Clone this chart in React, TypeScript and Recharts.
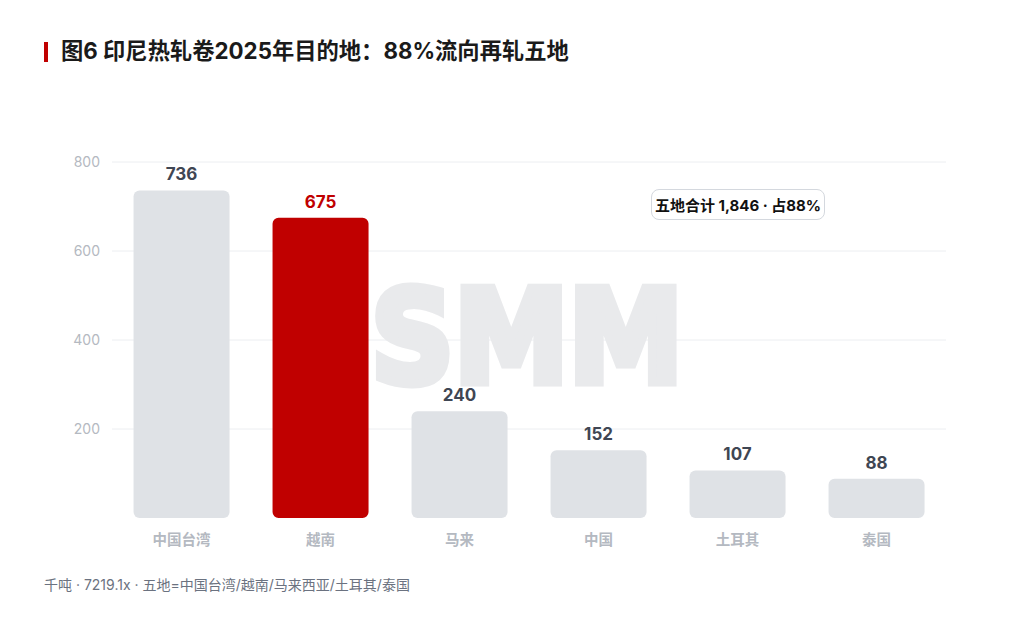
import { BarChart, Bar, XAxis, YAxis, CartesianGrid, Cell, LabelList } from "recharts";

const categories = ["中国台湾", "越南", "马来", "中国", "土耳其", "泰国"];
const volumes = [736, 675, 240, 152, 107, 88];
const highlight = ["", "越南", "", "", "", ""];
const yTicks = [200, 400, 600, 800];

const FONT = "Inter, 'Noto Sans CJK SC', 'Noto Sans', sans-serif";
const RED = "#c00000";
const GREY = "#dfe2e6";

const data = categories.map((name, i) => ({ name, value: volumes[i], hot: highlight[i] === name }));

const ValueLabel = (props: any) => {
  const { x, y, width, value, index } = props;
  const hot = data[index]?.hot;
  return (
    <text
      x={x + width / 2}
      y={y - 10}
      textAnchor="middle"
      fontFamily={FONT}
      fontSize={17}
      fontWeight={700}
      fill={hot ? RED : "#3f4653"}
    >
      {value}
    </text>
  );
};

export default function App() {
  return (
    <div style={{ position: "absolute", left: 0, top: 0, width: 1024, height: 624, background: "#fff", fontFamily: FONT }}>
      <div style={{ position: "absolute", left: 44, top: 42, width: 4, height: 20, background: RED }} />
      <div style={{ position: "absolute", left: 61, top: 35, fontSize: 22.3, fontWeight: 700, color: "#1a1a1a", lineHeight: "32px", whiteSpace: "nowrap" }}>
        图6 印尼热轧卷2025年目的地：88%流向再轧五地
      </div>

      <BarChart
        width={1024}
        height={624}
        data={data}
        margin={{ top: 162, right: 78, bottom: 76, left: 52 }}
        barCategoryGap="15.5%"
        style={{ position: "absolute", left: 0, top: 0 }}
      >
        <CartesianGrid vertical={false} stroke="#eceef1" horizontalValues={yTicks} />
        {/* SMM watermark */}
        <text
          x={527}
          y={382}
          textAnchor="middle"
          fontFamily="'DejaVu Sans', sans-serif"
          fontWeight={900}
          fontSize={128}
          textLength={312}
          lengthAdjust="spacingAndGlyphs"
          fill="#e9eaec"
          stroke="#e9eaec"
          strokeWidth={9}
          strokeLinejoin="miter"
        >
          SMM
        </text>
        <XAxis
          dataKey="name"
          axisLine={false}
          tickLine={false}
          tickSize={0}
          tickMargin={17}
          height={30}
          tick={{ fontSize: 14.5, fontWeight: 700, fill: "#b4b9c1", fontFamily: FONT }}
        />
        <YAxis
          domain={[0, 800]}
          ticks={yTicks}
          axisLine={false}
          tickLine={false}
          tickSize={0}
          tickMargin={12}
          width={60}
          tick={{ fontSize: 14, fill: "#b4b9c1", fontFamily: FONT }}
        />
        <Bar dataKey="value" radius={6} isAnimationActive={false}>
          {data.map((d) => (
            <Cell key={d.name} fill={d.hot ? RED : GREY} />
          ))}
          <LabelList dataKey="value" content={<ValueLabel />} />
        </Bar>
      </BarChart>

      <div
        style={{
          position: "absolute",
          left: 651,
          top: 189,
          width: 174,
          height: 31,
          boxSizing: "border-box",
          border: "1px solid #d4d8de",
          borderRadius: 8,
          background: "#fff",
          fontSize: 15,
          fontWeight: 700,
          color: "#111",
          display: "flex",
          alignItems: "center",
          justifyContent: "center",
          whiteSpace: "nowrap",
        }}
      >
        五地合计 1,846 · 占88%
      </div>

      <div style={{ position: "absolute", left: 44, top: 574, fontSize: 14, color: "#6b7280", whiteSpace: "nowrap" }}>
        千吨 · 7219.1x · 五地=中国台湾/越南/马来西亚/土耳其/泰国
      </div>
    </div>
  );
}
